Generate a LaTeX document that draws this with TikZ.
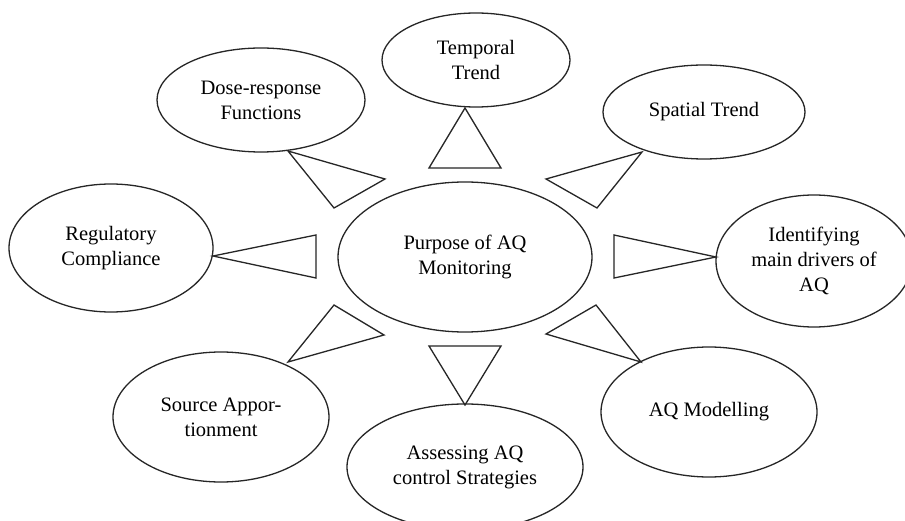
\documentclass[tikz,border=0pt]{standalone}
\usepackage{fontspec}
\setmainfont{Liberation Serif}
\usetikzlibrary{shapes.geometric}
\begin{document}
\begin{tikzpicture}[x=1pt,y=-1pt,
  bubble/.style={draw=black!85, ellipse, line width=1.3pt, inner sep=0pt, align=center,
    font=\fontsize{20.5}{25}\selectfont},
  tri/.style={draw=black!85, line width=1.3pt, line join=miter}]
\useasboundingbox (0,0) rectangle (905,521);
\fill[white] (0,0) rectangle (905,521);
\clip (0,0) rectangle (905,521);
% ellipses
\node[bubble, minimum width=254, minimum height=150] (center) at (465,257) {Purpose of AQ\\Monitoring};
\node[bubble, minimum width=188, minimum height=94] (temporal) at (476,60) {Temporal\\Trend};
\node[bubble, minimum width=208, minimum height=104] (dose) at (261,100) {Dose-response\\Functions};
\node[bubble, minimum width=202, minimum height=94] (spatial) at (704,112) {Spatial Trend};
\node[bubble, minimum width=204, minimum height=128] (reg) at (111,248) {Regulatory\\Compliance};
\node[bubble, minimum width=196, minimum height=132] (drivers) at (814,261) {Identifying\\main drivers of\\AQ};
\node[bubble, minimum width=216, minimum height=130] (source) at (221,417) {Source Appor-\\tionment};
\node[bubble, minimum width=216, minimum height=130] (model) at (709,412) {AQ Modelling};
\node[bubble, minimum width=236, minimum height=126] (assess) at (465,467) {Assessing AQ\\control Strategies};
% triangles
\draw[tri] (288,151) -- (385,179) -- (334,208) -- cycle;
\draw[tri] (465,108) -- (429,168) -- (501,168) -- cycle;
\draw[tri] (642,152) -- (546,179) -- (597,208) -- cycle;
\draw[tri] (213,256) -- (316,235) -- (316,278) -- cycle;
\draw[tri] (716,257) -- (614,235) -- (614,278) -- cycle;
\draw[tri] (288,362) -- (334,305) -- (384,335) -- cycle;
\draw[tri] (429,346) -- (501,346) -- (465,405) -- cycle;
\draw[tri] (641,362) -- (546,334) -- (596,305) -- cycle;
\end{tikzpicture}
\end{document}
